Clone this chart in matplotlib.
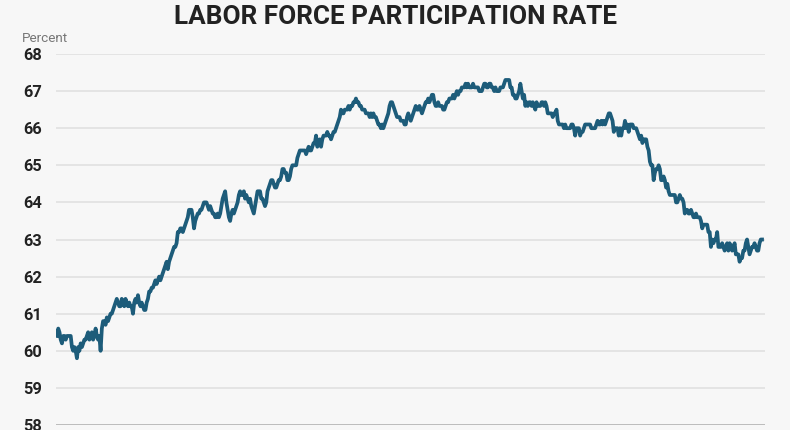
import numpy as np
import matplotlib
matplotlib.use("Agg")
import matplotlib.pyplot as plt

# Monthly labor force participation rate, Jan 1970 - Mar 2017 (percent)
years = list(range(1970, 2018))
rate_by_year = {
    1970: [60.4, 60.6, 60.5, 60.3, 60.2, 60.4, 60.4, 60.3, 60.4, 60.4, 60.4, 60.4],
    1971: [60.1, 60.0, 60.1, 60.0, 59.8, 60.1, 60.0, 60.2, 60.1, 60.2, 60.3, 60.3],
    1972: [60.4, 60.5, 60.3, 60.4, 60.5, 60.3, 60.4, 60.6, 60.4, 60.3, 60.4, 60.0],
    1973: [60.6, 60.8, 60.8, 60.7, 60.9, 60.8, 60.9, 61.0, 61.0, 61.1, 61.2, 61.3],
    1974: [61.4, 61.3, 61.2, 61.2, 61.4, 61.3, 61.2, 61.4, 61.3, 61.2, 61.3, 61.2],
    1975: [61.2, 61.0, 61.3, 61.4, 61.3, 61.5, 61.3, 61.2, 61.3, 61.2, 61.1, 61.1],
    1976: [61.3, 61.4, 61.6, 61.6, 61.7, 61.7, 61.8, 61.9, 61.8, 61.9, 62.0, 61.9],
    1977: [62.0, 62.1, 62.2, 62.3, 62.4, 62.2, 62.4, 62.5, 62.6, 62.7, 62.8, 62.8],
    1978: [62.9, 63.2, 63.2, 63.3, 63.3, 63.2, 63.3, 63.4, 63.5, 63.6, 63.8, 63.8],
    1979: [63.8, 63.6, 63.3, 63.5, 63.6, 63.7, 63.7, 63.8, 63.8, 63.9, 64.0, 64.0],
    1980: [64.0, 63.9, 63.8, 63.9, 63.8, 63.7, 63.7, 63.6, 63.6, 63.7, 63.6, 63.7],
    1981: [63.9, 64.1, 64.2, 64.3, 64.0, 63.8, 63.6, 63.5, 63.7, 63.8, 63.7, 63.8],
    1982: [63.9, 64.0, 64.2, 64.3, 64.2, 64.2, 64.3, 64.1, 64.2, 64.1, 64.0, 64.1],
    1983: [63.9, 63.8, 63.7, 63.9, 64.1, 64.3, 64.3, 64.3, 64.1, 64.1, 64.0, 63.9],
    1984: [64.0, 64.3, 64.4, 64.5, 64.6, 64.6, 64.5, 64.4, 64.4, 64.5, 64.6, 64.6],
    1985: [64.7, 64.9, 64.9, 64.8, 64.8, 64.6, 64.6, 64.7, 64.9, 65.0, 65.0, 65.0],
    1986: [65.0, 65.2, 65.3, 65.4, 65.4, 65.4, 65.4, 65.4, 65.3, 65.4, 65.5, 65.4],
    1987: [65.4, 65.5, 65.6, 65.6, 65.8, 65.5, 65.6, 65.7, 65.5, 65.7, 65.8, 65.8],
    1988: [65.8, 65.9, 65.8, 65.8, 65.7, 65.8, 65.9, 65.9, 66.0, 66.1, 66.2, 66.3],
    1989: [66.5, 66.4, 66.4, 66.5, 66.5, 66.5, 66.6, 66.5, 66.6, 66.6, 66.7, 66.7],
    1990: [66.8, 66.7, 66.7, 66.6, 66.6, 66.5, 66.5, 66.5, 66.4, 66.4, 66.4, 66.3],
    1991: [66.4, 66.3, 66.4, 66.3, 66.3, 66.2, 66.1, 66.1, 66.0, 66.1, 66.0, 66.1],
    1992: [66.2, 66.3, 66.4, 66.6, 66.7, 66.7, 66.6, 66.5, 66.4, 66.3, 66.3, 66.3],
    1993: [66.2, 66.2, 66.2, 66.1, 66.1, 66.3, 66.4, 66.3, 66.2, 66.3, 66.4, 66.5],
    1994: [66.6, 66.5, 66.5, 66.6, 66.5, 66.4, 66.5, 66.6, 66.7, 66.7, 66.8, 66.7],
    1995: [66.8, 66.9, 66.9, 66.7, 66.6, 66.6, 66.7, 66.6, 66.6, 66.6, 66.5, 66.5],
    1996: [66.6, 66.7, 66.7, 66.8, 66.8, 66.8, 66.9, 66.8, 66.9, 67.0, 66.9, 67.0],
    1997: [67.0, 67.1, 67.1, 67.1, 67.2, 67.1, 67.2, 67.1, 67.1, 67.1, 67.2, 67.1],
    1998: [67.1, 67.1, 67.1, 67.0, 67.0, 67.0, 67.1, 67.2, 67.2, 67.1, 67.1, 67.2],
    1999: [67.2, 67.1, 67.1, 67.0, 67.1, 67.0, 67.0, 67.0, 67.1, 67.1, 67.1, 67.2],
    2000: [67.3, 67.3, 67.3, 67.3, 67.1, 67.1, 66.9, 66.9, 66.8, 66.8, 66.9, 67.0],
    2001: [67.2, 67.0, 66.8, 66.9, 66.6, 66.7, 66.6, 66.7, 66.7, 66.6, 66.7, 66.6],
    2002: [66.5, 66.7, 66.6, 66.6, 66.6, 66.7, 66.7, 66.6, 66.7, 66.6, 66.4, 66.4],
    2003: [66.4, 66.4, 66.3, 66.4, 66.4, 66.5, 66.2, 66.1, 66.1, 66.1, 66.1, 66.0],
    2004: [66.1, 66.0, 66.0, 66.0, 66.0, 66.1, 66.1, 66.0, 65.8, 66.0, 66.0, 66.0],
    2005: [65.8, 65.9, 65.9, 66.0, 66.1, 66.1, 66.1, 66.1, 66.1, 66.0, 66.0, 66.0],
    2006: [66.0, 66.1, 66.2, 66.1, 66.1, 66.2, 66.1, 66.2, 66.1, 66.2, 66.3, 66.4],
    2007: [66.4, 66.3, 66.2, 65.9, 66.0, 66.0, 66.0, 65.8, 66.0, 65.8, 66.0, 66.0],
    2008: [66.2, 66.0, 66.1, 65.9, 66.1, 66.1, 66.1, 66.0, 66.0, 66.0, 65.9, 65.8],
    2009: [65.7, 65.8, 65.6, 65.7, 65.7, 65.7, 65.5, 65.4, 65.1, 65.0, 65.0, 64.6],
    2010: [64.8, 64.9, 64.9, 65.0, 64.9, 64.6, 64.6, 64.7, 64.6, 64.4, 64.5, 64.3],
    2011: [64.2, 64.2, 64.2, 64.2, 64.2, 64.0, 64.0, 64.1, 64.2, 64.1, 64.1, 64.0],
    2012: [63.7, 63.8, 63.8, 63.7, 63.7, 63.8, 63.7, 63.6, 63.6, 63.7, 63.6, 63.6],
    2013: [63.6, 63.5, 63.3, 63.4, 63.4, 63.4, 63.4, 63.2, 63.2, 62.8, 63.0, 62.9],
    2014: [63.0, 63.0, 63.2, 62.8, 62.8, 62.8, 62.9, 62.8, 62.7, 62.8, 62.9, 62.7],
    2015: [62.9, 62.8, 62.7, 62.8, 62.9, 62.6, 62.6, 62.6, 62.4, 62.5, 62.5, 62.7],
    2016: [62.7, 62.9, 63.0, 62.8, 62.6, 62.7, 62.8, 62.8, 62.9, 62.8, 62.7, 62.7],
    2017: [62.9, 63.0, 63.0],
}
y_ticks = [58, 59, 60, 61, 62, 63, 64, 65, 66, 67, 68]
title = "LABOR FORCE PARTICIPATION RATE"
unit_label = "Percent"

values = np.concatenate([rate_by_year[y] for y in years])
months = np.arange(len(values))

BG = "#f7f7f7"
LINE = "#1d5c7a"

plt.rcParams['font.family'] = ['Roboto', 'DejaVu Sans']

W, H = 790, 430
fig = plt.figure(figsize=(W / 100, H / 100), dpi=100, facecolor=BG)
ax = fig.add_axes([56 / W, 1 - 425 / H, (765 - 56) / W, (425 - 54) / H])
ax.set_facecolor(BG)

ax.plot(months, values, color=LINE, lw=2.7, solid_joinstyle='round', zorder=3)

ax.set_ylim(58, 68)
ax.set_xlim(-0.8, len(values) - 1 + 2.4)
ax.set_yticks(y_ticks)
ax.set_yticklabels([str(t) for t in y_ticks], fontweight='bold', fontsize=11.8, color='#222222')
ax.tick_params(axis='y', length=0, pad=10)
ax.set_xticks([])
for t in y_ticks:
    if t == 58:
        ax.axhline(t, color='#aaaaaa', lw=1.8, zorder=2)
    else:
        ax.axhline(t, color='#e2e2e2', lw=1.3, zorder=1)
for s in ax.spines.values():
    s.set_visible(False)

fig.text(0.5, 1 - 17.5 / H, title, ha='center', va='center', fontsize=18.8,
         fontweight='bold', color='#222222')
fig.text(22 / W, 1 - 42 / H, unit_label, ha='left', va='baseline', fontsize=9.7,
         color='#777777')

fig.savefig("out.png", dpi=100, facecolor=BG)
